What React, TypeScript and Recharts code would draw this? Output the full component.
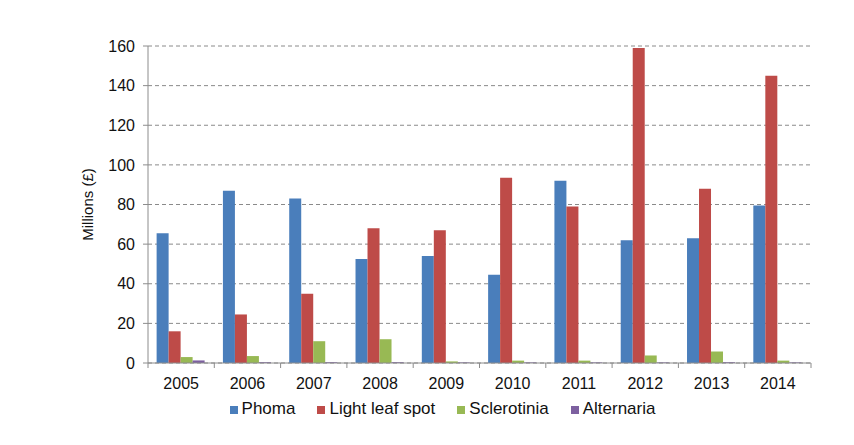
import React from 'react';
import { BarChart, Bar, XAxis, YAxis, CartesianGrid, Legend } from 'recharts';

const years = ['2005', '2006', '2007', '2008', '2009', '2010', '2011', '2012', '2013', '2014'];
const phoma = [65.5, 87, 83, 52.5, 54, 44.5, 92, 62, 63, 79.5];
const lightLeafSpot = [16, 24.5, 35, 68, 67, 93.5, 79, 159, 88, 145];
const sclerotinia = [3, 3.5, 11, 12, 0.8, 1.2, 1.2, 3.8, 5.8, 1.2];
const alternaria = [1.3, 0.4, 0.4, 0.4, 0.3, 0.3, 0.3, 0.3, 0.4, 0.3];
const yTicks = [0, 20, 40, 60, 80, 100, 120, 140, 160];

const data = years.map((year, i) => ({
  year,
  phoma: phoma[i],
  lls: lightLeafSpot[i],
  scl: sclerotinia[i],
  alt: alternaria[i],
}));

const FONT = '"Liberation Sans", Arial, sans-serif';
const AXIS = '#8c8c8c';
const TICK_SIZE = 6;
const TICK_MARGIN = 9;

// year label plus the small tick marks that sit on the category boundaries
const YearTick = (props: any) => {
  const { x, y, payload, index } = props;
  const half = payload.offset || 0;
  const lineTop = y - TICK_SIZE - TICK_MARGIN;
  return (
    <g>
      <line x1={x - half} x2={x - half} y1={lineTop} y2={lineTop + 5} stroke={AXIS} />
      {index === years.length - 1 && (
        <line x1={x + half} x2={x + half} y1={lineTop} y2={lineTop + 5} stroke={AXIS} />
      )}
      <text x={x} y={y} dy="0.71em" textAnchor="middle" fill="#111" fontSize={16} fontFamily={FONT}>
        {payload.value}
      </text>
    </g>
  );
};

const App: React.FC = () => {
  return (
    <div style={{ position: 'absolute', left: 0, top: 0, width: 854, height: 445, background: '#fff', fontFamily: FONT }}>
      <BarChart
        width={854}
        height={445}
        data={data}
        margin={{ top: 46, right: 43, left: 58, bottom: 26 }}
        barCategoryGap="13%"
        barGap={0}
      >
        <CartesianGrid vertical={false} stroke="#8a8a8a" strokeDasharray="4 3" />
        <XAxis
          dataKey="year"
          height={30}
          stroke={AXIS}
          tickLine={false}
          tickSize={TICK_SIZE}
          tickMargin={TICK_MARGIN}
          tick={<YearTick />}
          interval={0}
        />
        <YAxis
          domain={[0, 160]}
          ticks={yTicks}
          width={90}
          stroke={AXIS}
          tickSize={5}
          tick={{ fill: '#111', fontSize: 16, fontFamily: FONT }}
          tickMargin={8}
          label={{ value: 'Millions (£)', angle: -90, position: 'insideLeft', offset: 30, style: { fill: '#111', fontSize: 15, fontFamily: FONT, textAnchor: 'middle' } }}
        />
        <Legend
          verticalAlign="bottom"
          iconType="square"
          iconSize={8}
          itemSorter={null}
          wrapperStyle={{ fontSize: 17, fontFamily: FONT, color: '#111', paddingTop: 6, paddingLeft: 26, boxSizing: 'border-box' }}
          formatter={(value, _entry, index) => (
            <span style={{ color: '#111', paddingRight: index === 3 ? 0 : 12 }}>{value}</span>
          )}
        />
        <Bar dataKey="phoma" name="Phoma" fill="#4a7ebb" isAnimationActive={false} />
        <Bar dataKey="lls" name="Light leaf spot" fill="#be4b48" isAnimationActive={false} />
        <Bar dataKey="scl" name="Sclerotinia" fill="#98b954" isAnimationActive={false} />
        <Bar dataKey="alt" name="Alternaria" fill="#7d60a0" isAnimationActive={false} />
      </BarChart>
    </div>
  );
};

export default App;
